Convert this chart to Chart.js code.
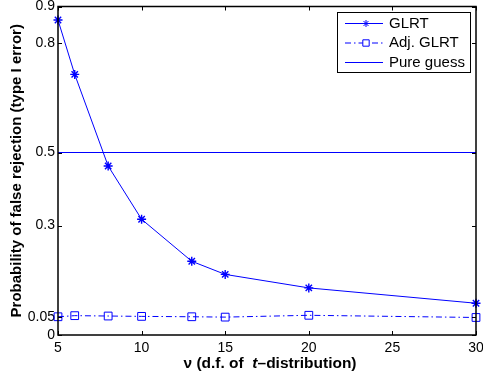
<!DOCTYPE html>
<html>
<head>
<meta charset="utf-8">
<script src="https://cdn.jsdelivr.net/npm/chart.js@4"></script>
<style>
  html, body { margin: 0; padding: 0; background: #fff; }
  #wrap { width: 483px; height: 376px; }
</style>
</head>
<body>
<div id="wrap"><canvas id="myChart" width="483" height="376"></canvas></div>
<script>
// data
let nu = [5, 6, 8, 10, 13, 15, 20, 30];
let glrt = [0.863, 0.714, 0.463, 0.317, 0.202, 0.166, 0.129, 0.087];
let adjGlrt = [0.050, 0.053, 0.052, 0.051, 0.050, 0.049, 0.054, 0.048];
let pureGuess = [0.5, 0.5];
let guessX = [5, 30];
let xTicks = [5, 10, 15, 20, 25, 30];
let yTicks = [0, 0.05, 0.3, 0.5, 0.8, 0.9];

let blue = '#0000ff';
let font = '"Liberation Sans", Arial, Helvetica, sans-serif';

// box, inside ticks, x title with italic t, and a matlab style legend
let matlabBits = {
  id: 'matlabBits',
  afterDraw(chart) {
    let c = chart.ctx;
    let a = chart.chartArea;
    let xs = chart.scales.x, ys = chart.scales.y;
    c.save();
    c.strokeStyle = '#000';
    c.lineWidth = 1;
    c.beginPath();
    xTicks.forEach(v => {
      let px = Math.round(xs.getPixelForValue(v)) + 0.5;
      c.moveTo(px, a.bottom); c.lineTo(px, a.bottom - 4);
      c.moveTo(px, a.top); c.lineTo(px, a.top + 4);
    });
    yTicks.forEach(v => {
      let py = Math.round(ys.getPixelForValue(v)) + 0.5;
      c.moveTo(a.left, py); c.lineTo(a.left + 4, py);
      c.moveTo(a.right, py); c.lineTo(a.right - 4, py);
    });
    c.stroke();
    c.lineWidth = 1.5;
    c.strokeRect(a.left, a.top, a.right - a.left, a.bottom - a.top);

    // x axis title
    let p1 = '\u03bd (d.f. of  ', p2 = 't', p3 = '\u2013distribution)';
    c.fillStyle = '#000';
    c.textBaseline = 'middle';
    c.textAlign = 'left';
    c.font = 'bold 15.5px ' + font;
    let w1 = c.measureText(p1).width, w3 = c.measureText(p3).width;
    c.font = 'italic bold 15.5px ' + font;
    let w2 = c.measureText(p2).width;
    let tx = (a.left + a.right) / 2 + 3 - (w1 + w2 + w3) / 2;
    let ty = 364;
    c.font = 'bold 15.5px ' + font;
    c.fillText(p1, tx, ty);
    c.font = 'italic bold 15.5px ' + font;
    c.fillText(p2, tx + w1, ty);
    c.font = 'bold 15.5px ' + font;
    c.fillText(p3, tx + w1 + w2, ty);

    // legend
    let bx = 337, by = 12, bw = 133, bh = 60;
    c.fillStyle = '#fff';
    c.fillRect(bx, by, bw, bh);
    c.lineWidth = 1;
    c.strokeStyle = '#000';
    c.strokeRect(bx + 0.5, by + 0.5, bw, bh);
    c.font = '15px ' + font;
    chart.data.datasets.forEach((ds, i) => {
      let ly = by + 11.5 + i * 19.5;
      c.strokeStyle = blue;
      c.lineWidth = 1;
      c.setLineDash(ds.borderDash || []);
      c.beginPath();
      c.moveTo(bx + 8, ly); c.lineTo(bx + 46, ly);
      c.stroke();
      c.setLineDash([]);
      if (ds.pointRadius > 0) {
        c.fillStyle = '#fff';
        Chart.helpers.drawPoint(c, {
          pointStyle: ds.pointStyle, radius: ds.pointRadius - 1, borderWidth: 1
        }, bx + 29, ly);
      }
      c.fillStyle = '#000';
      c.fillText(ds.label, bx + 52, ly);
    });
    c.restore();
  }
};

new Chart(document.getElementById('myChart').getContext('2d'), {
  type: 'line',
  data: {
    datasets: [{
      label: 'GLRT',
      data: nu.map((v, i) => ({x: v, y: glrt[i]})),
      borderColor: blue,
      backgroundColor: blue,
      borderWidth: 1,
      pointStyle: 'star',
      pointRadius: 4.5,
      pointBorderWidth: 1.4,
      tension: 0
    }, {
      label: 'Adj. GLRT',
      data: nu.map((v, i) => ({x: v, y: adjGlrt[i]})),
      borderColor: blue,
      backgroundColor: 'rgba(0,0,0,0)',
      borderWidth: 1,
      borderDash: [6, 3, 1.5, 3],
      pointStyle: 'rect',
      pointRadius: 5.5,
      pointBorderWidth: 1,
      tension: 0
    }, {
      label: 'Pure guess',
      data: guessX.map((v, i) => ({x: v, y: pureGuess[i]})),
      borderColor: blue,
      borderWidth: 1,
      pointRadius: 0,
      tension: 0
    }]
  },
  plugins: [matlabBits],
  options: {
    responsive: false,
    animation: false,
    clip: false,
    layout: {padding: {left: 0, top: 6, right: 7, bottom: 0}},
    plugins: {legend: {display: false}, tooltip: {enabled: false}},
    scales: {
      x: {
        type: 'linear', min: 5, max: 30,
        afterBuildTicks: s => { s.ticks = xTicks.map(v => ({value: v})); },
        afterFit: s => { s.height = 41; s.paddingLeft = 0; s.paddingRight = 0; },
        grid: {display: false, drawTicks: false},
        border: {display: false},
        ticks: {color: '#000', padding: 5, font: {family: font, size: 14}}
      },
      y: {
        type: 'linear', min: 0, max: 0.9,
        afterBuildTicks: s => { s.ticks = yTicks.map(v => ({value: v})); },
        afterFit: s => { s.width = 58; s.paddingTop = 0; s.paddingBottom = 0; },
        grid: {display: false, drawTicks: false},
        border: {display: false},
        ticks: {color: '#000', padding: 3, font: {family: font, size: 14},
          callback: v => String(v)},
        title: {display: true, text: 'Probability of false rejection (type I error)',
          color: '#000', padding: {top: 8, bottom: 0},
          font: {family: font, size: 15, weight: 'bold'}}
      }
    }
  }
});
</script>
</body>
</html>
